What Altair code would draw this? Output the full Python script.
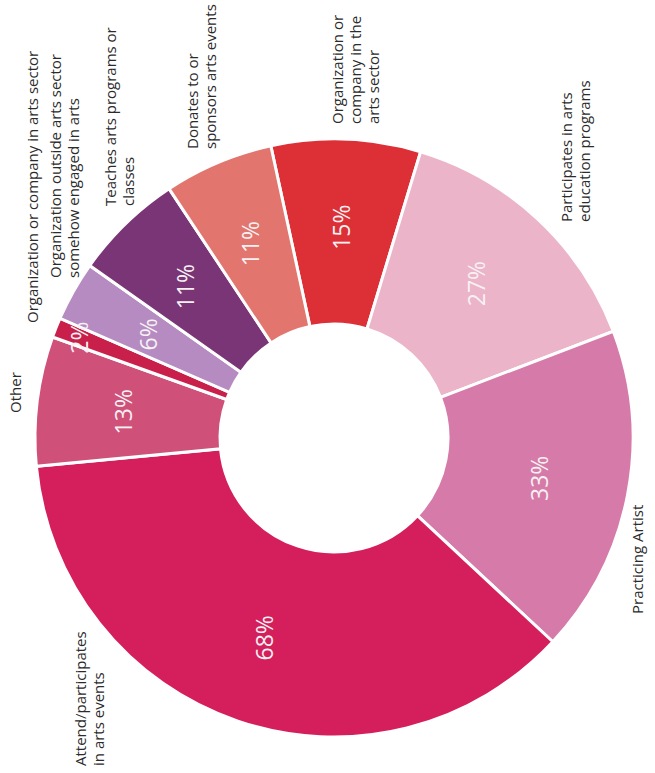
import math
import altair as alt
import pandas as pd

# Share of respondents for each kind of arts involvement (multiple answers allowed)
categories = [
    "Organization or company in the arts sector",
    "Participates in arts education programs",
    "Practicing Artist",
    "Attend/participates in arts events",
    "Other",
    "Organization or company in arts sector",
    "Organization outside arts sector somehow engaged in arts",
    "Teaches arts programs or classes",
    "Donates to or sponsors arts events",
]
values = [15, 27, 33, 68, 13, 2, 6, 11, 11]
colors = ["#dc2f36", "#ebb4c9", "#d67ba9", "#d41f5c", "#cf5079",
          "#c91f4b", "#b58bc1", "#7a3577", "#e2766f"]

# Outside labels: line breaks and anchor (left edge of first line, start of text)
label_lines = {
    "Organization or company in the arts sector": ["Organization or", "company in the", "arts sector"],
    "Participates in arts education programs": ["Participates in arts", "education  programs"],
    "Practicing Artist": ["Practicing Artist"],
    "Attend/participates in arts events": ["Attend/participates", "in arts events"],
    "Other": ["Other"],
    "Organization or company in arts sector": ["Organization or company in arts sector"],
    "Organization outside arts sector somehow engaged in arts": ["Organization outside arts sector", "somehow engaged in arts"],
    "Teaches arts programs or classes": ["Teaches arts programs or", "classes"],
    "Donates to or sponsors arts events": ["Donates to or", "sponsors arts events"],
}
label_anchor = {
    "Organization or company in the arts sector": (331, 124),
    "Participates in arts education programs": (560, 222),
    "Practicing Artist": (631, 614),
    "Attend/participates in arts events": (74, 766),
    "Other": (9, 413),
    "Organization or company in arts sector": (26, 323),
    "Organization outside arts sector somehow engaged in arts": (49, 278),
    "Teaches arts programs or classes": (104, 206),
    "Donates to or sponsors arts events": (186, 149),
}

df = pd.DataFrame({"category": categories, "value": values,
                   "order": list(range(len(categories)))})

CX, CY = 334, 438
R_OUT, R_IN = 299, 114
START = math.radians(-12.2)
TOTAL = sum(values)

theta_scale = alt.Scale(domain=[0, TOTAL], range=[START, START + 2 * math.pi])
color = alt.Color("category:N", scale=alt.Scale(domain=categories, range=colors),
                  legend=None)

donut = alt.Chart(df).mark_arc(
    outerRadius=R_OUT, innerRadius=R_IN, stroke="white", strokeWidth=3
).encode(
    theta=alt.Theta("value:Q", stack=True, scale=theta_scale),
    order=alt.Order("order:Q", sort="ascending"),
    color=color,
    x=alt.value(CX), y=alt.value(CY),
)

# Percentage labels sit at the middle angle of each slice
mid = alt.Chart(df).transform_window(
    cum="sum(value)", sort=[alt.SortField("order")]
).transform_calculate(
    mid="datum.cum - datum.value / 2",
    label="datum.value + '%'",
)

def pct_layer(cond, r):
    return mid.transform_filter(cond).mark_text(
        angle=270, align="center", baseline="middle", radius=r,
        font="Open Sans", fontSize=23, color="#f7f1f3",
    ).encode(
        theta=alt.Theta("mid:Q", stack=None, scale=theta_scale),
        text="label:N",
        x=alt.value(CX), y=alt.value(CY),
    )

layers = [donut,
          pct_layer("datum.value >= 5", 211),
          pct_layer("datum.value < 5", 272)]

for cat in categories:
    ax, ay = label_anchor[cat]
    layers.append(
        alt.Chart(df).transform_filter(alt.datum.category == cat)
        .mark_text(angle=270, align="left", baseline="top",
                   font="Open Sans", fontSize=15, lineHeight=18,
                   color="#2b2b2b", text=label_lines[cat])
        .encode(x=alt.value(ax), y=alt.value(ay))
    )

chart = alt.layer(*layers).properties(
    width=655, height=773, padding=0,
    autosize=alt.AutoSizeParams(type="none"),
    background="white",
).configure_view(stroke=None)

chart.save("out.html", embed_options={"renderer": "svg", "actions": False})
